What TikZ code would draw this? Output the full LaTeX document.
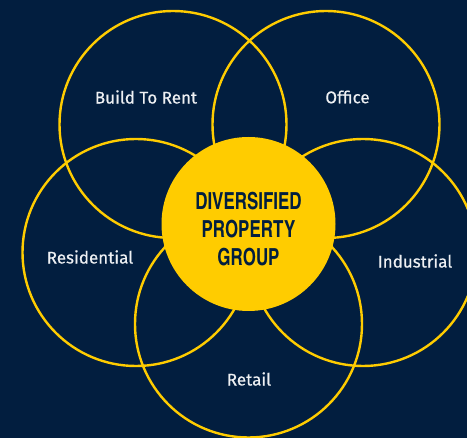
\documentclass[tikz,border=0pt]{standalone}
\usepackage{fontspec}
\setmainfont{Lato}
\newfontfamily\condfont{texgyreheroscn-bold.otf}
\newfontfamily\lblfont{Fira Sans}[FakeBold=0.5]
\definecolor{navy}{HTML}{021E3F}
\definecolor{gold}{HTML}{FFCC00}
\definecolor{labelwhite}{HTML}{EEF0F3}
\begin{document}
\begin{tikzpicture}[x=1pt,y=-1pt,
  ring/.style={circle,draw=gold,line width=2.4pt,minimum size=227pt,inner sep=0pt},
  lbl/.style={text=labelwhite,font=\lblfont\fontsize{17}{19}\selectfont,inner sep=0pt},
  hub/.style={circle,fill=gold,minimum size=174pt,inner sep=0pt},
  hubtext/.style={text=navy,align=center,inner sep=0pt,font=\condfont\fontsize{23.5}{28}\selectfont}]
\fill[navy] (0,0) rectangle (467,438);
\useasboundingbox (0,0) rectangle (467,438);
\node[ring] (btr) at (173,124.5) {};
\node[ring] (off) at (326,124.5) {};
\node[ring] (res) at (136,252.5) {};
\node[ring] (ind) at (363,252.5) {};
\node[ring] (ret) at (248.5,324) {};
\node[hub] (hub) at (248.5,224) {};
\node[hubtext] (hubt) at (248.5,229) {\scalebox{0.88}[1]{DIVERSIFIED}\\\scalebox{0.88}[1]{PROPERTY}\\\scalebox{0.88}[1]{GROUP}};
\node[lbl] (lbtr) at (146,97) {Build To Rent};
\node[lbl] (loff) at (347.5,97) {Office};
\node[lbl] (lres) at (90,257) {Residential};
\node[lbl] (lind) at (415,261) {Industrial};
\node[lbl] (lret) at (249,379) {Retail};
\end{tikzpicture}
\end{document}
